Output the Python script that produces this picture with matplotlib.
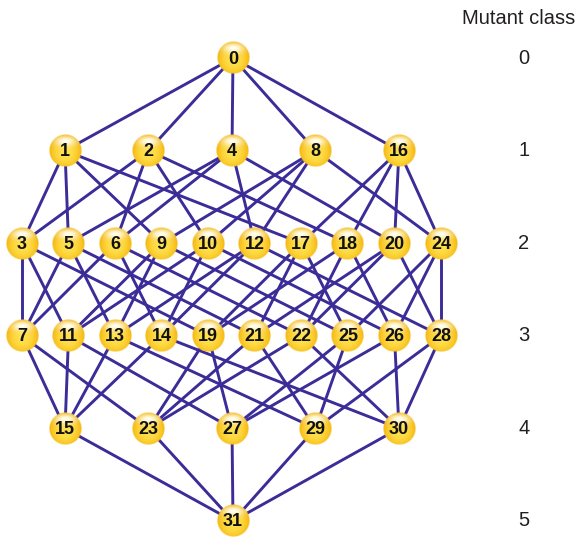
import numpy as np
import matplotlib.pyplot as plt

# nodes of the 5-bit genotype hypercube, grouped by mutant class
class0 = [0]
class1 = [1, 2, 4, 8, 16]
class2 = [3, 5, 6, 9, 10, 12, 17, 18, 20, 24]
class3 = [7, 11, 13, 14, 19, 21, 22, 25, 26, 28]
class4 = [15, 23, 27, 29, 30]
class5 = [31]
rows = [class0, class1, class2, class3, class4, class5]
class_labels = ['0', '1', '2', '3', '4', '5']

edge_col = '#3b2c98'
txt_col = '#231f20'
plt.rcParams['font.family'] = ['Liberation Sans', 'DejaVu Sans']

fig = plt.figure(figsize=(5.8, 5.39), dpi=100)
ax = fig.add_axes([0, 0, 1, 1])
ax.axis('off')

# layout: rows spaced evenly, nodes spread about a common centre
pos = {}
for k, row in enumerate(rows):
    y = 58 + 92.6 * k
    n = len(row)
    if n == 1:
        xs = [233]
    elif n == 5:
        xs = np.linspace(65, 399, n)
    else:
        xs = np.linspace(22, 441, n)
    for node, x in zip(row, xs):
        pos[node] = (x, y)

# edges join genotypes differing by one mutation
for a in range(32):
    for b in range(a + 1, 32):
        if bin(a ^ b).count('1') == 1:
            ax.plot([pos[a][0], pos[b][0]], [pos[a][1], pos[b][1]],
                    color=edge_col, lw=2.1, zorder=1, solid_capstyle='round')

# shaded sphere image
R = 16.5
N = 80
u, v = np.meshgrid(np.linspace(-1, 1, N), np.linspace(-1, 1, N))
d = np.sqrt(u ** 2 + (v - 0.15) ** 2)
centre = np.array([1.0, 0.88, 0.30])
rim = np.array([0.96, 0.71, 0.04])
w = np.clip(d, 0, 1) ** 2.2
img = centre * (1 - w[..., None]) + rim * w[..., None]
hl = np.exp(-(u ** 2 / 0.45 + (v + 0.58) ** 2 / 0.10))
img = img * (1 - hl[..., None]) + np.array([1, 1, 0.96]) * hl[..., None]
rr = np.sqrt(u ** 2 + v ** 2)
alpha = np.clip((1 - rr) * N / 2.5, 0, 1)
sphere = np.dstack([img, alpha])

for node, (x, y) in pos.items():
    ax.imshow(sphere, extent=(x - R, x + R, y + R, y - R), zorder=2,
              interpolation='bilinear')
    ax.text(x, y + 1, str(node), ha='center', va='center', fontsize=13,
            fontweight='bold', color='#111111', zorder=3)

ax.set_xlim(0, 580)
ax.set_ylim(539, 0)
ax.set_aspect('auto')

ax.text(519, 19, 'Mutant class', ha='center', va='center', fontsize=14.5, color=txt_col)
for k, lab in enumerate(class_labels):
    ax.text(524, 58 + 92.6 * k, lab, ha='center', va='center', fontsize=14.5, color=txt_col)

fig.savefig('out.png', dpi=100)
